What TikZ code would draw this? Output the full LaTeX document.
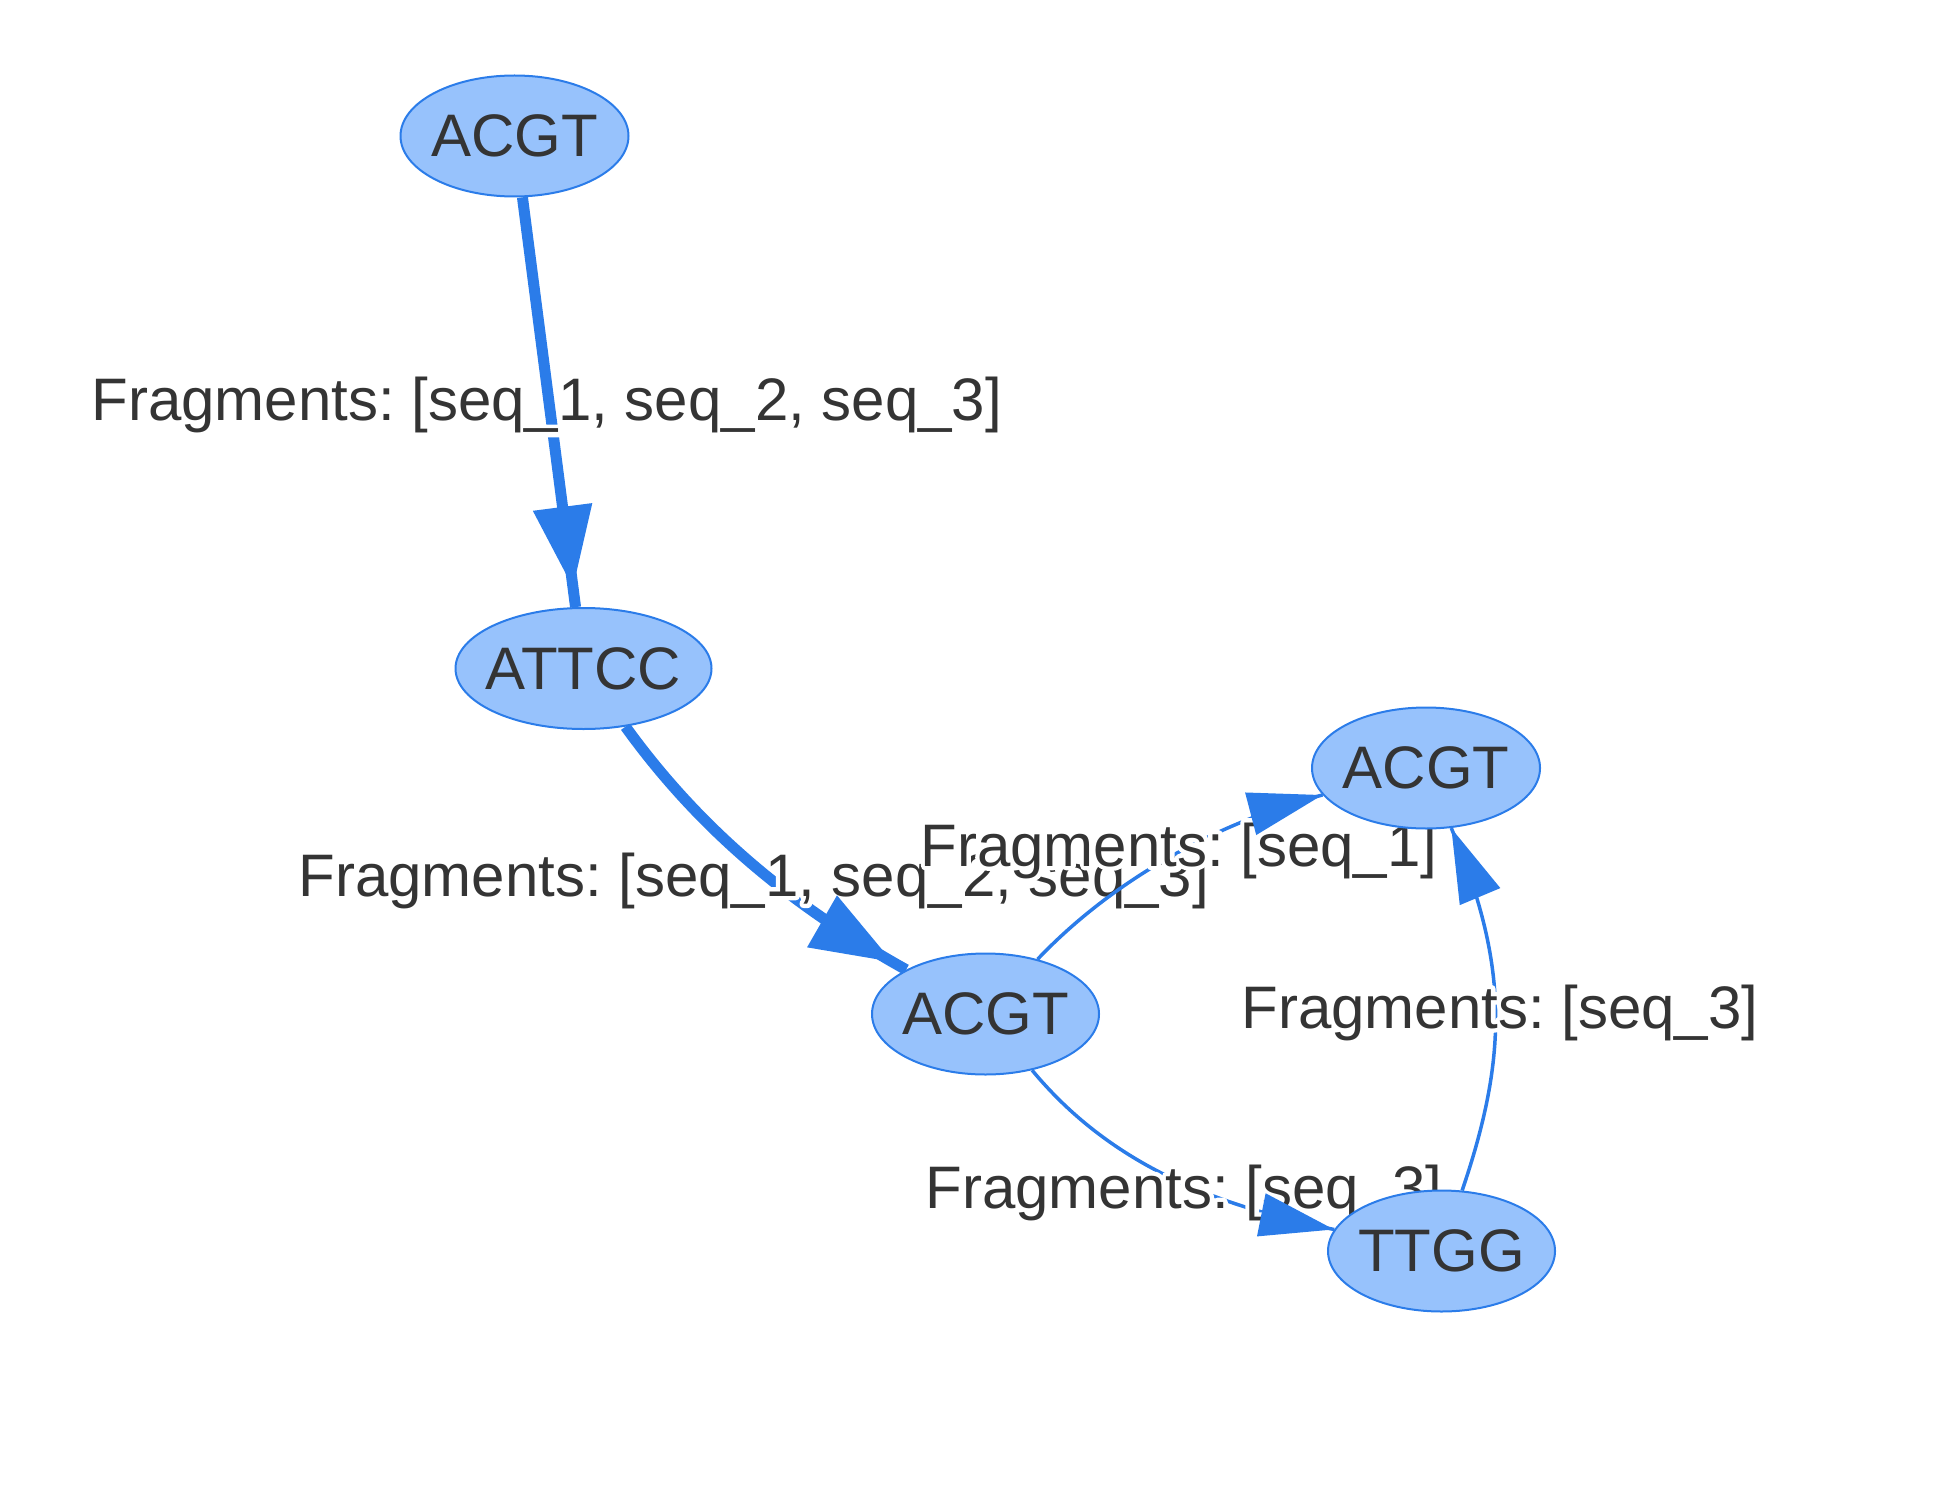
\documentclass[tikz,border=0pt]{standalone}
\usepackage{fontspec}
\setmainfont{Liberation Sans}
\usetikzlibrary{shapes.geometric,arrows.meta,decorations.markings}
\pgfdeclarelayer{bg}
\pgfdeclarelayer{fg}
\pgfsetlayers{bg,main,fg}
\definecolor{edgeblue}{HTML}{2B7CE9}
\definecolor{nodefill}{HTML}{97C2FC}
\definecolor{txt}{HTML}{343434}
% text with a white halo (stroked white copy underneath)
\newcommand{\halotext}[1]{\makebox[0pt][l]{\special{pdf:literal direct q 1 1 1 RG 1 j 4.4 w 1 Tr}#1\special{pdf:literal direct Q}}#1}
\frenchspacing
\begin{document}
\begin{tikzpicture}[x=0.5pt,y=-0.5pt,
  dnode/.style={ellipse, draw=edgeblue, line width=1pt, fill=nodefill, inner sep=0pt,
    minimum height=60.5pt, text=txt, font=\fontsize{30}{36}\selectfont},
  elabel/.style={anchor=base west, inner sep=0pt, text=txt, font=\fontsize{30}{36}\selectfont},
  thickedge/.style={draw=edgeblue, line width=5.5pt},
  thinedge/.style={draw=edgeblue, line width=1.75pt},
  tipthick/.style={postaction={decorate}, decoration={markings,
    mark=at position #1 with {\arrow[edgeblue]{Triangle[length=40.5pt,width=30pt,line width=0pt]}}}},
  tipthin/.style={postaction={decorate}, decoration={markings,
    mark=at position #1 with {\arrow[edgeblue]{Triangle[length=37pt,width=22pt,line width=0pt]}}}}
]
\useasboundingbox (0,0) rectangle (1958,1508);

% nodes
\node[dnode, minimum width=114pt]   (n1) at (514.5,136)   {\makebox[0pt]{ACGT}};
\node[dnode, minimum width=128pt]   (n2) at (583.5,668.5) {\makebox[0pt]{ATTCC}};
\node[dnode, minimum width=113.5pt] (n3) at (985.5,1014)  {\makebox[0pt]{ACGT}};
\node[dnode, minimum width=114pt]   (n4) at (1426,768)    {\makebox[0pt]{ACGT}};
\node[dnode, minimum width=113.5pt] (n5) at (1441.5,1251) {\makebox[0pt]{TTGG}};

% edges and labels
\begin{pgfonlayer}{bg}
\draw[thickedge] (n1) -- (n2);
\node[elabel] (l1) at (91,421) {\halotext{Fragments: [seq\_1, seq\_2, seq\_3]}};
\draw[thickedge] (n2) .. controls (700,830) and (792,906) .. (n3);
\node[elabel] (l2) at (298,896) {\halotext{Fragments: [seq\_1, seq\_2, seq\_3]}};
\draw[thinedge] (n3) .. controls (1112,881) and (1215,823) .. (n4);
\node[elabel] (l3) at (920,866) {\halotext{Fragments: [seq\_1]}};
\draw[thinedge] (n3) .. controls (1109,1163) and (1212,1205) .. (n5);
\node[elabel] (l5) at (925,1208) {\halotext{Fragments: [seq\_3]}};
\draw[thinedge] (n5) .. controls (1509,1053) and (1508,963) .. (n4);
\node[elabel] (l4) at (1241,1028) {\halotext{Fragments: [seq\_3]}};
\end{pgfonlayer}

% arrowheads
\begin{pgfonlayer}{fg}
\path[tipthick=-10pt] (n1) -- (n2);
\path[tipthick=-8pt] (n2) .. controls (700,830) and (792,906) .. (n3);
\path[tipthin=-0.2pt] (n3) .. controls (1112,881) and (1215,823) .. (n4);
\path[tipthin=-0.2pt] (n3) .. controls (1109,1163) and (1212,1205) .. (n5);
\path[tipthin=-0.2pt] (n5) .. controls (1509,1053) and (1508,963) .. (n4);
\end{pgfonlayer}
\end{tikzpicture}
\end{document}
